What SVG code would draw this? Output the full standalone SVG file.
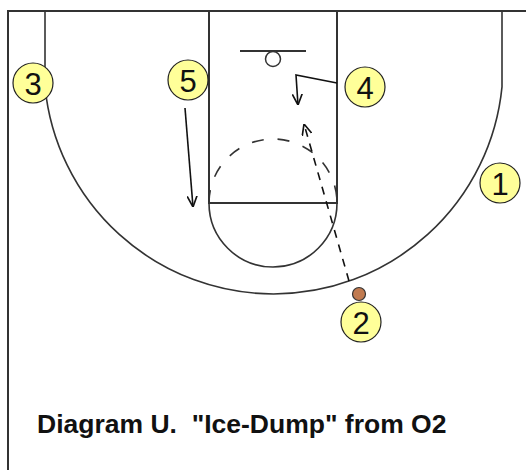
<svg xmlns="http://www.w3.org/2000/svg" width="526" height="470" viewBox="0 0 526 470">
<style>
.court{fill:none;stroke:#333;stroke-width:2}
.arc{fill:none;stroke:#333;stroke-width:1.6}
.ply circle{fill:#ffff99;stroke:#222;stroke-width:1.2}
.ply text{font-family:"Liberation Sans",Arial,sans-serif;font-size:31px;fill:#111;text-anchor:middle}
.mv{fill:none;stroke:#111;stroke-width:1.6}
</style>
<defs>
<marker id="ah" viewBox="0 0 10 10" refX="10" refY="5" markerWidth="11" markerHeight="11" markerUnits="userSpaceOnUse" orient="auto">
<path d="M0,0.5 L10,5 L0,9.5" fill="none" stroke="#111" stroke-width="1.5"/>
</marker>
</defs>
<rect width="526" height="470" fill="#fff"/>
<g id="court">
<path class="court" d="M526 11 H8 V470"/>
<path class="court" d="M209 11 V203 H337 V11"/>
<path class="arc" d="M45 11 V86.8 A229.6 229.6 0 0 0 502 86.8 V11"/>
<path class="arc" d="M209 203 A64 64 0 0 0 337 203"/>
<path class="arc" d="M209 203 A64 64 0 0 1 337 203" stroke-dasharray="12 14" stroke-dashoffset="25"/>
<path class="court" d="M240 51 H306"/>
<circle cx="273" cy="59" r="7.5" fill="#fff" stroke="#333" stroke-width="1.5"/>
</g>
<g id="connectors">
<path class="mv" d="M185 108 L193 207" marker-end="url(#ah)"/>
<path class="mv" d="M337 83 L296 75 L298 105" marker-end="url(#ah)"/>
<path class="mv" d="M349 281 L304 124" stroke-dasharray="8 7" marker-end="url(#ah)"/>
</g>
<g id="p3" class="ply"><circle cx="33" cy="83" r="20"/><text x="33" y="94.5">3</text></g>
<g id="p5" class="ply"><circle cx="188" cy="80" r="20"/><text x="188" y="91.5">5</text></g>
<g id="p4" class="ply"><circle cx="365" cy="87" r="20"/><text x="365" y="98.5">4</text></g>
<g id="p1" class="ply"><circle cx="500" cy="183" r="20"/><text x="500" y="194.5">1</text></g>
<g id="p2" class="ply"><circle cx="361" cy="322" r="20"/><text x="361" y="333.5">2</text></g>
<g id="ball"><circle cx="359" cy="294" r="6.5" fill="#c07a50" stroke="#333" stroke-width="1.2"/></g>
<g id="caption"><text x="37" y="433" font-family="'Liberation Sans',Arial,sans-serif" font-weight="bold" font-size="26.5" fill="#111" xml:space="preserve">Diagram U.  "Ice-Dump" from O2</text></g>
</svg>
